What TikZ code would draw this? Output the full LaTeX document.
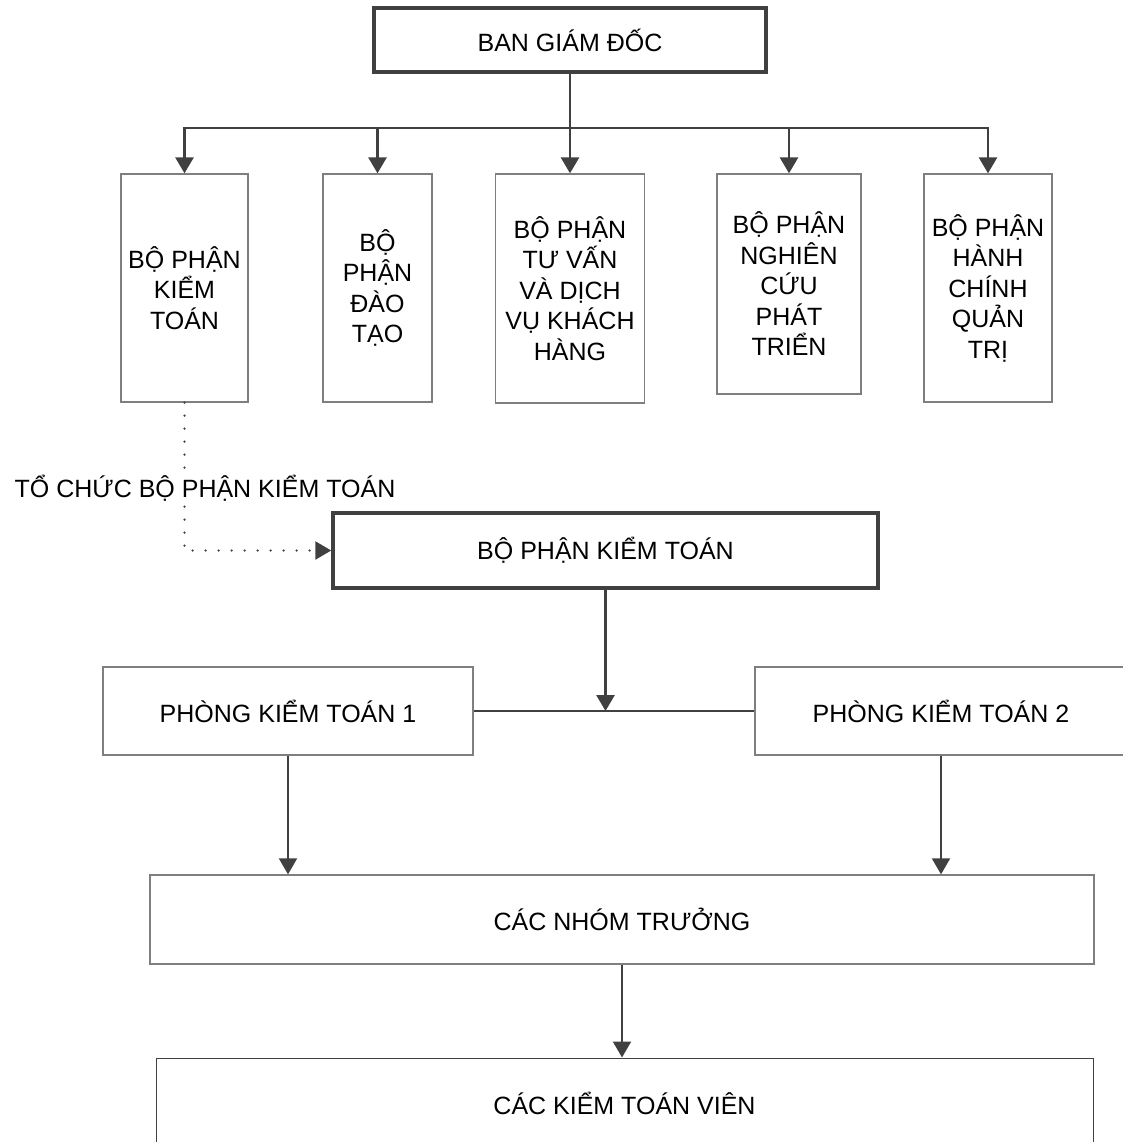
\documentclass[tikz,border=0pt]{standalone}
\usepackage{fontspec}
\setmainfont{Liberation Sans}
\usetikzlibrary{arrows.meta}
\definecolor{linegray}{HTML}{404040}
\definecolor{boxgray}{HTML}{7F7F7F}

\begin{document}
\begin{tikzpicture}[x=1pt, y=-1pt,
      >={Triangle[width=18pt,length=16pt]},
      box/.style={draw=boxgray, line width=1.3pt, align=center, inner sep=0pt,
        font=\fontsize{25}{30.5}\selectfont},
      bigbox/.style={box, draw=linegray, line width=3.5pt},
      edge/.style={->, draw=linegray, line width=2.8pt},
      link/.style={draw=linegray, line width=2pt},
      dots/.style={->, draw=linegray, line width=2.5pt, line cap=round,
        dash pattern=on 0pt off 13pt}]

    \useasboundingbox (0,0) rectangle (1123,1142);

    \node[bigbox, minimum width=392pt, minimum height=64pt] (bgd) at (570,40) {BAN GIÁM ĐỐC};

    \node[box, minimum width=127pt, minimum height=228pt] (kt) at (184.5,288) {BỘ PHẬN\\KIỂM\\TOÁN};
    \node[box, minimum width=109pt, minimum height=228pt] (dt) at (377.5,288) {BỘ\\PHẬN\\ĐÀO\\TẠO};
    \node[box, minimum width=149pt, minimum height=229pt] (tv) at (570,288.5) {BỘ PHẬN\\TƯ VẤN\\VÀ DỊCH\\VỤ KHÁCH\\HÀNG};
    \node[box, minimum width=144pt, minimum height=220pt] (nc) at (789,284) {BỘ PHẬN\\NGHIÊN\\CỨU\\PHÁT\\TRIỂN};
    \node[box, minimum width=128pt, minimum height=228pt] (hc) at (988,288) {BỘ PHẬN\\HÀNH\\CHÍNH\\QUẢN\\TRỊ};

    \node[bigbox, minimum width=545pt, minimum height=75pt] (bpkt) at (605.5,550.5) {BỘ PHẬN KIỂM TOÁN};
    \node[box, minimum width=370pt, minimum height=88pt] (p1) at (288,711) {PHÒNG KIỂM TOÁN 1};
    \node[box, minimum width=372pt, minimum height=88pt] (p2) at (941,711) {PHÒNG KIỂM TOÁN 2};
    \node[box, minimum width=944pt, minimum height=89pt] (nt) at (622,919.5) {CÁC NHÓM TRƯỞNG};
    \node[box, draw=linegray, line width=1pt, minimum width=937pt, minimum height=90pt] (ktv) at (624.5,1103) {CÁC KIỂM TOÁN VIÊN};

    % ban giam doc -> cac bo phan
    \coordinate (bus) at (570,128);
    \draw[edge] (bgd.south) -- (tv.north);
    \draw[edge] (bus -| hc.north) -| (kt.north);
    \draw[edge] (bus -| kt.north) -| (hc.north);
    \draw[edge] (bus -| dt.north) -- (dt.north);
    \draw[edge] (bus -| nc.north) -- (nc.north);

    % to chuc bo phan kiem toan
    \draw[dots] (kt.south) |- (bpkt.west);
    \node[fill=white, inner sep=1pt, anchor=base, font=\fontsize{25}{30}\selectfont] (caption) at (205,497) {TỔ CHỨC BỘ PHẬN KIỂM TOÁN};

    \draw[link] (p1.east) -- (p2.west);
    \draw[edge] (bpkt.south) -- (bpkt.south |- p1.east);
    \draw[edge, line width=2pt] (p1.south) -- (p1.south |- nt.north);
    \draw[edge, line width=2pt] (p2.south) -- (p2.south |- nt.north);
    \draw[edge, line width=2pt] (nt.south) -- (nt.south |- ktv.north);
  \end{tikzpicture}
\end{document}
